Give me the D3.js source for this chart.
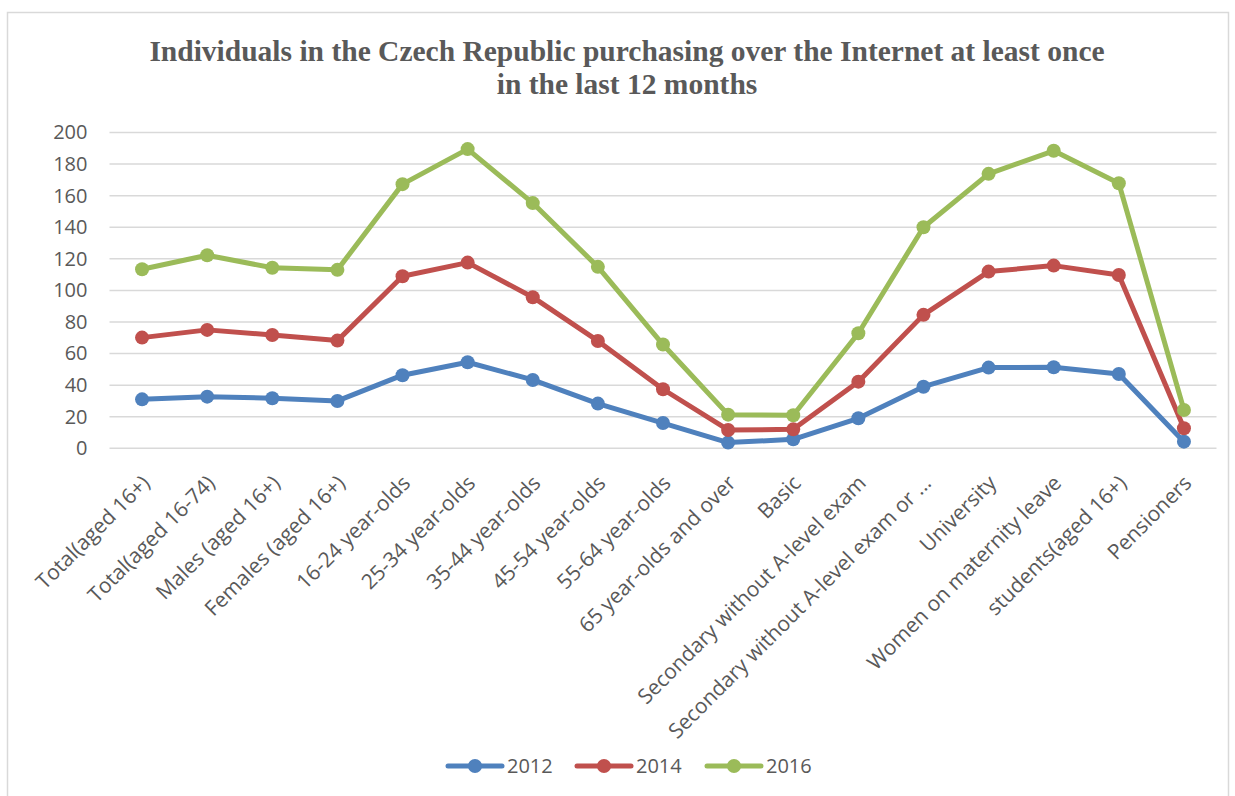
<!DOCTYPE html>
<html>
<head>
<meta charset="utf-8">
<script src="https://cdn.jsdelivr.net/npm/d3@7"></script>
<style>
    body { margin: 0; background: #fff; }
</style>
</head>
<body>
<div id="chart"></div>
<script>
// data
const categories = ["Total(aged 16+)", "Total(aged 16-74)", "Males (aged 16+)",
    "Females (aged 16+)", "16-24 year-olds", "25-34 year-olds", "35-44 year-olds",
    "45-54 year-olds", "55-64 year-olds", "65 year-olds and over", "Basic",
    "Secondary without A-level exam", "Secondary without A-level exam or ...",
    "University", "Women on maternity leave", "students(aged 16+)", "Pensioners"];
const values2012 = [31, 32.7, 31.7, 30, 46.3, 54.5, 43.3, 28.3, 16, 3.6, 5.7, 19, 39, 51.1, 51.3, 47.1, 4.2];
const values2014 = [70.1, 75, 71.8, 68.2, 109, 117.6, 95.7, 68, 37.4, 11.6, 12, 42.2, 84.5, 111.9, 115.7, 109.8, 12.7];
const values2016 = [113.4, 122.3, 114.3, 113, 167.3, 189.5, 155.3, 114.9, 65.7, 21.3, 20.9, 72.9, 140, 173.8, 188.4, 167.9, 24.3];
const yTicks = [0, 20, 40, 60, 80, 100, 120, 140, 160, 180, 200];
const seriesNames = ["2012", "2014", "2016"];
const seriesColors = ["#4F81BD", "#C0504D", "#9BBB59"];
const titleLines = ["Individuals in the Czech Republic purchasing over the Internet at least once",
    "in the last 12 months"];

const width = 1235, height = 796;
const plot = { left: 109.5, right: 1216.5, top: 132.5, bottom: 448.3 };

const series = [values2012, values2014, values2016].map((v, i) => ({
    name: seriesNames[i],
    color: seriesColors[i],
    values: v
}));

const svg = d3.select("#chart").append("svg")
    .attr("width", width)
    .attr("height", height);

//chart border
svg.append("rect")
    .attr("x", 7.5).attr("y", 12.5)
    .attr("width", 1221).attr("height", 800)
    .style("fill", "none")
    .style("stroke", "#D9D9D9")
    .style("stroke-width", 1.5);

//title
svg.selectAll(".title")
    .data(titleLines)
    .enter()
    .append("text")
    .attr("x", 627)
    .attr("y", (d, i) => 61 + i * 33)
    .text(d => d)
    .style("font-family", "'Liberation Serif', 'Times New Roman', serif")
    .style("font-weight", "bold")
    .style("font-size", "29.5px")
    .style("fill", "#595959")
    .style("text-anchor", "middle");

//scales
let x = d3.scaleBand()
    .domain(categories)
    .range([plot.left, plot.right]);

let y = d3.scaleLinear()
    .domain([0, 200])
    .range([plot.bottom, plot.top]);

//gridlines
svg.selectAll(".grid")
    .data(yTicks)
    .enter()
    .append("line")
    .attr("x1", plot.left)
    .attr("x2", plot.right)
    .attr("y1", d => y(d))
    .attr("y2", d => y(d))
    .style("stroke", "#D9D9D9")
    .style("stroke-width", 1.5);

//y axis labels
let yAxis = svg.append("g")
    .attr("transform", "translate(" + (plot.left - 22) + ",0)")
    .call(d3.axisLeft(y).tickValues(yTicks).tickSize(0).tickPadding(0));
yAxis.select(".domain").remove();
yAxis.selectAll("text")
    .style("font-family", "'Open Sans', sans-serif")
    .style("font-size", "20px")
    .style("fill", "#595959");

//x axis labels rotated
let xAxis = svg.append("g")
    .attr("transform", "translate(0," + plot.bottom + ")")
    .call(d3.axisBottom(x).tickSize(0).tickPadding(0));
xAxis.select(".domain").remove();
xAxis.selectAll("text")
    .attr("y", 0)
    .attr("dy", 0)
    .attr("transform", "translate(9,36) rotate(-45)")
    .style("text-anchor", "end")
    .style("font-family", "'Open Sans', sans-serif")
    .style("font-size", "21px")
    .style("fill", "#595959");

//lines
let line = d3.line()
    .x((d, i) => x(categories[i]) + x.bandwidth() / 2)
    .y(d => y(d));

series.forEach(s => {
    svg.append("path")
        .datum(s.values)
        .attr("d", line)
        .style("fill", "none")
        .style("stroke", s.color)
        .style("stroke-width", 5)
        .style("stroke-linejoin", "round")
        .style("stroke-linecap", "round");

    svg.selectAll(".marker_" + s.name)
        .data(s.values)
        .enter()
        .append("circle")
        .attr("cx", (d, i) => x(categories[i]) + x.bandwidth() / 2)
        .attr("cy", d => y(d))
        .attr("r", 7)
        .style("fill", s.color);
});

//legend
let legendX = [448, 577, 707];
let legend = svg.selectAll(".legend")
    .data(series)
    .enter()
    .append("g")
    .attr("transform", (d, i) => "translate(" + legendX[i] + ",766)");

legend.append("line")
    .attr("x1", 0).attr("x2", 54)
    .attr("y1", 0).attr("y2", 0)
    .style("stroke", d => d.color)
    .style("stroke-width", 5)
    .style("stroke-linecap", "round");

legend.append("circle")
    .attr("cx", 27).attr("cy", 0)
    .attr("r", 7)
    .style("fill", d => d.color);

legend.append("text")
    .attr("x", 59)
    .attr("y", 0)
    .attr("dy", "0.35em")
    .text(d => d.name)
    .style("font-family", "'Open Sans', sans-serif")
    .style("font-size", "20px")
    .style("fill", "#595959");
</script>
</body>
</html>
